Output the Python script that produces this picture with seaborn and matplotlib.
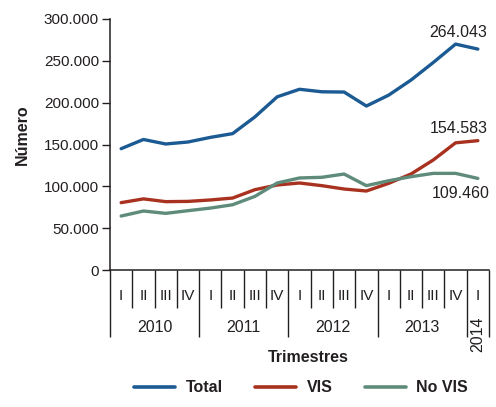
import pandas as pd
import matplotlib
matplotlib.use('Agg')
import matplotlib.pyplot as plt
import matplotlib.transforms as mtransforms
from matplotlib.ticker import FuncFormatter, FixedLocator
import seaborn as sns

# data (quarterly, 2010-I .. 2014-I)
quarters = ['I', 'II', 'III', 'IV'] * 4 + ['I']
years = ['2010', '2011', '2012', '2013']
total = [145000, 156000, 150600, 153000, 158500, 163000, 183000, 207000, 216000,
         213000, 212700, 196000, 209000, 227000, 248000, 270000, 264043]
vis = [80500, 85000, 81700, 82000, 83700, 86000, 96000, 101600, 104000,
       100800, 96800, 94400, 103600, 114700, 131500, 152000, 154583]
no_vis = [64500, 70500, 67700, 70900, 74000, 78000, 88000, 104000, 110000,
          110800, 114700, 100800, 106700, 111500, 115500, 115500, 109460]

n = len(total)
df = pd.DataFrame({
    'pos': list(range(n)) * 3,
    'valor': total + vis + no_vis,
    'serie': ['Total'] * n + ['VIS'] * n + ['No VIS'] * n,
})

sns.set_style('white')
plt.rcParams['font.family'] = ['Liberation Sans', 'DejaVu Sans']
palette = {'Total': '#1b5a93', 'VIS': '#a8321f', 'No VIS': '#5f8c7a'}
text_col = '#231f20'
fs = 11

fig = plt.figure(figsize=(4.96, 4.07), dpi=100)
ax = fig.add_axes([110 / 496, 1 - 270 / 407, (489 - 110) / 496, (270 - 19) / 407])

sns.lineplot(data=df, x='pos', y='valor', hue='serie', palette=palette,
             linewidth=2.4, ax=ax, legend=False)

ax.set_xlim(-0.5, n - 0.5)
ax.set_ylim(0, 300000)
ax.yaxis.set_major_locator(FixedLocator(range(0, 300001, 50000)))
ax.yaxis.set_major_formatter(FuncFormatter(lambda v, p: f'{int(v):,}'.replace(',', '.')))
ax.tick_params(axis='y', length=6, width=1, color=text_col, labelsize=fs,
               labelcolor=text_col, pad=2, left=True)

for s in ['top', 'right']:
    ax.spines[s].set_visible(False)
for s in ['left', 'bottom']:
    ax.spines[s].set_color(text_col)
    ax.spines[s].set_linewidth(1.1)

# x axis: quarter separators (minor) and year separators (major)
year_bounds = [-0.5, 3.5, 7.5, 11.5, 15.5, 16.5]
q_bounds = [b - 0.5 for b in range(n + 1) if (b - 0.5) not in year_bounds]
ax.xaxis.set_major_locator(FixedLocator(year_bounds))
ax.xaxis.set_minor_locator(FixedLocator(q_bounds))
ax.tick_params(axis='x', which='major', length=48, width=1, color=text_col,
               labelbottom=False, bottom=True, direction='out')
ax.tick_params(axis='x', which='minor', length=27, width=1, color=text_col,
               labelbottom=False, bottom=True, direction='out')
ax.set_xlabel('')
ax.set_ylabel('')

trans = mtransforms.blended_transform_factory(ax.transData, fig.transFigure)
for i, q in enumerate(quarters):
    ax.text(i, 1 - 296 / 407, q, transform=trans, ha='center', va='center',
            fontsize=fs, color=text_col)
for k, y in enumerate(years):
    ax.text(4 * k + 1.5, 1 - 327 / 407, y, transform=trans, ha='center',
            va='center', fontsize=fs + 0.5, color=text_col)
ax.text(16, 1 - 334 / 407, '2014', transform=trans, ha='center', va='center',
        rotation=90, fontsize=fs + 0.5, color=text_col)

# end labels
ax.annotate('264.043', (16, total[-1]), xytext=(-14, 12), textcoords='offset points',
            ha='center', va='center', fontsize=fs + 0.5, color=text_col)
ax.annotate('154.583', (16, vis[-1]), xytext=(-14, 8.5), textcoords='offset points',
            ha='center', va='center', fontsize=fs + 0.5, color=text_col)
ax.annotate('109.460', (16, no_vis[-1]), xytext=(-12, -11), textcoords='offset points',
            ha='center', va='center', fontsize=fs + 0.5, color=text_col)

fig.text(308 / 496, 1 - 358 / 407, 'Trimestres', ha='center', va='center',
         fontsize=fs + 0.5, fontweight='bold', color=text_col)
fig.text(22 / 496, 1 - 135 / 407, 'Número', ha='center', va='center', rotation=90,
         fontsize=fs + 0.5, fontweight='bold', color=text_col)

handles = [plt.Line2D([], [], color=palette[k], lw=2.6) for k in palette]
fig.legend(handles, list(palette), loc='center', bbox_to_anchor=(301 / 496, 1 - 388 / 407),
           ncol=3, frameon=False, handlelength=2.6, columnspacing=2.0, handletextpad=0.65,
           prop={'size': fs + 0.5, 'weight': 'bold'}, labelcolor=text_col)

fig.savefig('out.png', dpi=100)
